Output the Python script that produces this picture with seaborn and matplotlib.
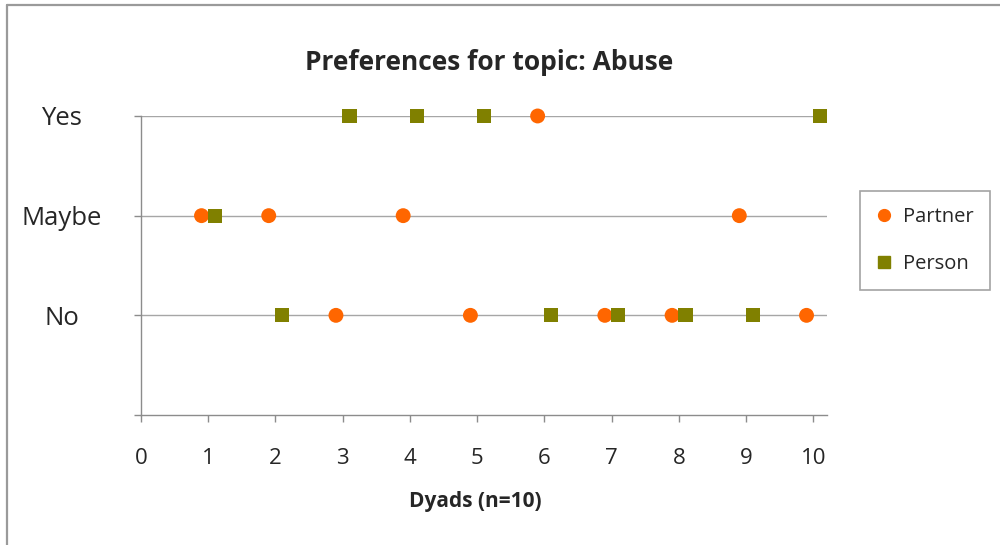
import matplotlib
matplotlib.use("Agg")
import matplotlib.pyplot as plt
from matplotlib.lines import Line2D
import seaborn as sns
import pandas as pd

# Response levels and their vertical positions
levels = ["No", "Maybe", "Yes"]
level_pos = {"No": 1, "Maybe": 2, "Yes": 3}

# Partner responses per dyad (offset slightly left of each dyad number)
partner_x = [0.9, 1.9, 2.9, 3.9, 4.9, 5.9, 6.9, 7.9, 8.9, 9.9]
partner_resp = ["Maybe", "Maybe", "No", "Maybe", "No", "Yes", "No", "No", "Maybe", "No"]

# Person responses per dyad (offset slightly right)
person_x = [1.1, 2.1, 3.1, 4.1, 5.1, 6.1, 7.1, 8.1, 9.1, 10.1]
person_resp = ["Maybe", "No", "Yes", "Yes", "Yes", "No", "No", "No", "No", "Yes"]

x_ticks = list(range(0, 11))
series_names = ["Partner", "Person"]
colors = {"Partner": "#FF6600", "Person": "#808000"}
markers = {"Partner": "o", "Person": "s"}

df = pd.DataFrame({
    "dyad": partner_x + person_x,
    "resp": [level_pos[r] for r in partner_resp + person_resp],
    "who": ["Partner"] * len(partner_x) + ["Person"] * len(person_x),
})

sns.set_style("white")
plt.rcParams["font.family"] = ["Open Sans", "DejaVu Sans"]

fig = plt.figure(figsize=(10, 5.45), dpi=100)
ax = fig.add_axes([0.141, 0.2385, 0.6857, 0.5487])

# horizontal gridlines at response levels
for v in level_pos.values():
    ax.axhline(v, color="#a6a6a6", lw=1.0, zorder=1)

for name in series_names:
    sub = df[df["who"] == name]
    sns.scatterplot(data=sub, x="dyad", y="resp", ax=ax, color=colors[name],
                    marker=markers[name], s=115 if name == "Partner" else 105,
                    edgecolor="none", linewidth=0, zorder=3, legend=False,
                    clip_on=False)

ax.set_xlim(0, 10.2)
ax.set_ylim(0, 3)
ax.set_xticks(x_ticks)
ax.set_xticklabels([str(t) for t in x_ticks], fontsize=16)
ax.set_yticks([0, 1, 2, 3])
ax.set_yticklabels(["", "No", "Maybe", "Yes"], fontsize=18.5, ha="center")
ax.tick_params(axis="y", pad=52, length=5, width=1, color="#8c8c8c", direction="out", left=True)
ax.tick_params(axis="x", pad=19, length=5, width=1, color="#8c8c8c", direction="out", bottom=True)

for side in ["top", "right"]:
    ax.spines[side].set_visible(False)
for side in ["left", "bottom"]:
    ax.spines[side].set_color("#8c8c8c")
    ax.spines[side].set_linewidth(1.0)

ax.set_xlabel("Dyads (n=10)", fontsize=15, fontweight="bold")
ax.xaxis.set_label_coords(0.487, -0.255)
ax.set_ylabel("")
fig.text(0.489, 0.885, "Preferences for topic: Abuse", ha="center", va="center",
         fontsize=19, fontweight="bold")

handles = [Line2D([], [], ls="none", marker=markers[n], color=colors[n],
                  markersize=8.5 if n == "Partner" else 8) for n in series_names]
leg = fig.legend(handles, series_names, loc="upper left",
                 bbox_to_anchor=(0.860, 0.649), frameon=True, fancybox=False,
                 fontsize=14.5, handlelength=0.8, handletextpad=0.55,
                 labelspacing=1.3, borderpad=0.8, borderaxespad=0)
leg.get_frame().set_edgecolor("#8c8c8c")
leg.get_frame().set_linewidth(1.2)

# outer chart frame
fig.add_artist(Line2D([0.007, 0.007], [0, 0.99], transform=fig.transFigure,
                      color="#9a9a9a", lw=1.6))
fig.add_artist(Line2D([0.007, 1.0], [0.99, 0.99], transform=fig.transFigure,
                      color="#9a9a9a", lw=1.6))

fig.savefig("out.png", dpi=100)
